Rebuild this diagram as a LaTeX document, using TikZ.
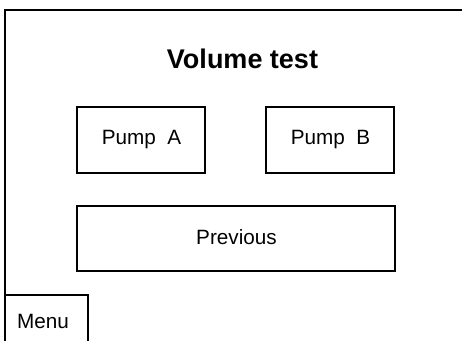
\documentclass[tikz,border=0pt]{standalone}
\usepackage{fontspec}
\setmainfont{Liberation Sans}
\begin{document}
\begin{tikzpicture}[x=1pt,y=-1pt,
  frame/.style={line width=1.3pt},
  btn/.style={draw,line width=1.3pt},
  lbl/.style={inner sep=0pt,anchor=base,font=\fontsize{20.7}{24}\selectfont},
  ttl/.style={inner sep=0pt,anchor=base,font=\fontsize{27}{31}\selectfont\bfseries}]
\useasboundingbox (0,0) rectangle (462,340);
\coordinate (tr) at (462,10);
\coordinate (tl) at (5,10);
\coordinate (bl) at (5,340);
\draw[frame] (tr) -- (tl) -- (bl);
\node[ttl] (title) at (242.5,68.3) {Volume test};
\draw[btn] (77,107) rectangle (205,173);
\node[lbl] (pa) at (141.5,144) {Pump\ \ A};
\draw[btn] (266,107) rectangle (394,173);
\node[lbl] (pb) at (330.5,144) {Pump\ \ B};
\draw[btn] (77,206) rectangle (395,271);
\node[lbl] (prev) at (236.5,244) {Previous};
\draw[btn] (5,341) -- (5,295) -- (88,295) -- (88,341);
\node[lbl,anchor=base west] (menu) at (17,328) {Menu};
\end{tikzpicture}
\end{document}
